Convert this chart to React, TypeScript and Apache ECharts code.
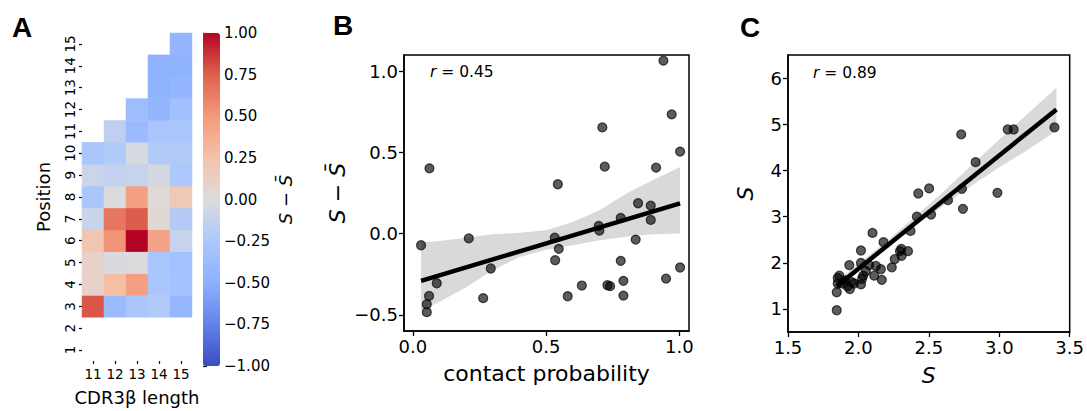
import React, { useEffect, useRef } from "react";
import * as echarts from "echarts";

// ---------- Panel A: heatmap ----------
const lengthCats = ["11", "12", "13", "14", "15"];
const positionCats = ["1", "2", "3", "4", "5", "6", "7", "8", "9", "10", "11", "12", "13", "14", "15"];
const firstPosition = 3;
// values for positions 3..L for each CDR3β length L
const heatL11 = [0.78, 0.1, 0.1, 0.2, -0.1, -0.25, -0.09, -0.25];
const heatL12 = [-0.38, 0.27, -0.02, 0.53, 0.66, -0.01, -0.13, -0.22, -0.15];
const heatL13 = [-0.25, 0.47, -0.01, 1.0, 0.76, 0.46, -0.11, -0.03, -0.38, -0.36];
const heatL14 = [-0.21, -0.25, -0.25, 0.44, 0.04, 0.03, -0.05, -0.21, -0.26, -0.45, -0.47, -0.48];
const heatL15 = [-0.42, -0.3, -0.31, -0.11, -0.2, 0.18, -0.24, -0.21, -0.26, -0.33, -0.44, -0.47, -0.43];
const heatColumns = [heatL11, heatL12, heatL13, heatL14, heatL15];
const coolwarm = ["#3b4cc0", "#6282ea", "#8db0fe", "#aac7fd", "#dddcdc", "#f5c1a9", "#f49a7b", "#de614d", "#b40426"];

// ---------- Panel B ----------
const contactProb = [0.031, 0.0625, 0.061, 0.0525, 0.0525, 0.09, 0.21, 0.264, 0.2925, 0.544, 0.5325, 0.5475, 0.534, 0.581, 0.634, 0.711, 0.72, 0.6975, 0.7, 0.73, 0.74, 0.78, 0.78, 0.79, 0.79, 0.836, 0.845, 0.8925, 0.8925, 0.9125, 0.94, 0.971, 0.95, 1.0025, 1.0025];
const deltaS = [-0.072, 0.402, -0.384, -0.435, -0.484, -0.306, -0.029, -0.398, -0.215, 0.304, -0.025, -0.094, -0.164, -0.386, -0.32, 0.654, 0.412, 0.047, 0.018, -0.318, -0.324, 0.096, -0.168, -0.291, -0.382, -0.037, 0.187, 0.172, 0.084, 0.406, 1.065, 0.734, -0.277, 0.505, -0.209];
const fitBX = [0.031, 1.0025];
const fitBY = [-0.291, 0.186];
const bandBX = [0.031, 0.1, 0.2, 0.3, 0.4, 0.5, 0.6, 0.7, 0.8, 0.9, 1.0025];
const bandBUp = [-0.055, -0.045, -0.025, -0.004, 0.005, 0.02, 0.072, 0.144, 0.246, 0.328, 0.41];
const bandBLow = [-0.472, -0.42, -0.33, -0.226, -0.144, -0.1, -0.072, -0.041, -0.02, -0.004, 0.0];
const xTicksB = [0, 0.5, 1.0];
const yTicksB = [-0.5, 0, 0.5, 1.0];

// ---------- Panel C ----------
const sX = [1.846, 1.846, 1.853, 1.853, 1.865, 1.888, 1.906, 1.922, 1.939, 1.953, 1.969, 1.935, 2.018, 2.025, 2.034, 2.018, 2.018, 2.053, 2.076, 2.1, 2.112, 2.124, 2.159, 2.166, 2.178, 2.237, 2.258, 2.295, 2.307, 2.305, 2.352, 2.37, 2.415, 2.425, 2.502, 2.516, 2.636, 2.73, 2.735, 2.742, 2.832, 2.987, 3.06, 3.102, 3.392];
const sY = [0.971, 1.361, 1.55, 1.672, 1.72, 1.55, 1.62, 1.49, 1.43, 1.58, 1.55, 1.95, 1.53, 1.65, 1.72, 2.265, 1.997, 1.82, 1.95, 2.647, 1.72, 1.93, 1.86, 1.63, 2.445, 1.9, 2.08, 2.25, 2.15, 2.3, 2.25, 2.69, 3.0, 3.5, 3.61, 3.044, 3.356, 4.779, 3.601, 3.168, 4.179, 3.514, 4.887, 4.887, 4.931];
const fitCX = [1.846, 3.406];
const fitCY = [1.491, 5.321];
const bandCX = [1.846, 2.0, 2.2, 2.4, 2.6, 2.8, 3.0, 3.2, 3.406];
const bandCUp = [1.6, 1.98, 2.46, 2.99, 3.53, 4.1, 4.67, 5.22, 5.79];
const bandCLow = [1.39, 1.86, 2.34, 2.79, 3.23, 3.66, 4.07, 4.44, 4.86];
const xTicksC = [1.5, 2.0, 2.5, 3.0, 3.5];
const yTicksC = [1, 2, 3, 4, 5, 6];

const FONT = "DejaVu Sans";
const fmt = (d: number) => (v: number) => {
  const s = Math.abs(v).toFixed(d);
  return v < -1e-9 ? "\u2212" + s : s;
};

function bandSeries(xs: number[], up: number[], low: number[], gi: number) {
  return {
    type: "custom",
    xAxisIndex: gi,
    yAxisIndex: gi,
    z: 1,
    silent: true,
    data: xs.map((x, i) => [x, low[i], up[i]]),
    renderItem: (params: any, api: any) => {
      if (params.dataIndex !== 0) return null;
      const pts: number[][] = [];
      for (let i = 0; i < xs.length; i++) pts.push(api.coord([xs[i], up[i]]));
      for (let i = xs.length - 1; i >= 0; i--) pts.push(api.coord([xs[i], low[i]]));
      return { type: "polygon", shape: { points: pts }, style: { fill: "#d9d9d9" } };
    },
  };
}

function scatterAxes(gi: number, xmin: number, xmax: number, ymin: number, ymax: number, xt: number[], yt: number[], xName: string, yName: string, xItalic: boolean, xGap: number, yGap: number) {
  const common = {
    gridIndex: gi,
    type: "value",
    splitLine: { show: false },
    axisLine: { show: true, onZero: false, lineStyle: { color: "#000", width: 1.5 } },
    axisTick: { show: true, length: 5, lineStyle: { color: "#000", width: 1.3 } },
    axisLabel: { color: "#000", fontSize: 18, fontFamily: FONT, margin: 6 },
  };
  const x = {
    ...common,
    min: xmin,
    max: xmax,
    axisTick: { ...common.axisTick, customValues: xt },
    axisLabel: { ...common.axisLabel, customValues: xt, formatter: fmt(1) },
    name: xName,
    nameLocation: "middle",
    nameGap: xGap,
    nameTextStyle: { color: "#000", fontSize: 22, fontFamily: FONT, fontStyle: xItalic ? "italic" : "normal" },
  };
  const y = {
    ...common,
    min: ymin,
    max: ymax,
    axisTick: { ...common.axisTick, customValues: yt },
    axisLabel: { ...common.axisLabel, customValues: yt, formatter: yt[0] === 1 ? fmt(0) : fmt(1) },
    name: yName,
    nameLocation: "middle",
    nameRotate: 90,
    nameGap: yGap,
    nameTextStyle: { color: "#000", fontSize: 22, fontFamily: FONT, fontStyle: "italic" },
  };
  return { x, y };
}

export default function App() {
  const ref = useRef<HTMLDivElement>(null);
  useEffect(() => {
    if (!ref.current) return;
    const chart = echarts.init(ref.current, null, { renderer: "svg" });
    const heatData: number[][] = [];
    heatColumns.forEach((col, ci) => {
      col.forEach((v, i) => heatData.push([ci, firstPosition + i - 1, v]));
    });
    const axB = scatterAxes(2, -0.033, 1.036, -0.6, 1.1, xTicksB, yTicksB, "contact probability", "S \u2212 S\u0304", false, 31, 56);
    const axC = scatterAxes(3, 1.5, 3.5, 0.5, 6.5, xTicksC, yTicksC, "S", "S", true, 32, 32);
    const pointStyle = { color: "rgba(0,0,0,0.8)", borderColor: "rgba(0,0,0,0.85)", borderWidth: 1.2 };

    chart.setOption({
      animation: false,
      textStyle: { fontFamily: FONT },
      grid: [
        { left: 82, top: 33, width: 110, height: 333 },
        { left: 203, top: 33, width: 17, height: 333 },
        { left: 404, top: 55, width: 285, height: 276, show: true, borderColor: "#000", borderWidth: 1.5, backgroundColor: "transparent" },
        { left: 788, top: 55, width: 284, height: 277, show: true, borderColor: "#000", borderWidth: 1.5, backgroundColor: "transparent" },
      ],
      xAxis: [
        {
          gridIndex: 0,
          type: "category",
          data: lengthCats,
          axisLine: { show: false },
          axisTick: { show: true, alignWithLabel: true, length: 3, lineStyle: { color: "#000", width: 1.2 } },
          axisLabel: { color: "#000", fontSize: 13.5, margin: 6, fontFamily: FONT, interval: 0, hideOverlap: false },
          name: "CDR3\u03b2 length",
          nameLocation: "middle",
          nameGap: 27,
          nameTextStyle: { color: "#000", fontSize: 18, fontFamily: FONT },
        },
        { gridIndex: 1, type: "value", show: false, min: 0, max: 1 },
        axB.x,
        axC.x,
      ],
      yAxis: [
        {
          gridIndex: 0,
          type: "category",
          data: positionCats,
          axisLine: { show: false },
          axisTick: { show: true, alignWithLabel: true, length: 3, interval: 0, lineStyle: { color: "#000", width: 1.2 } },
          axisLabel: { color: "#000", fontSize: 13.5, rotate: 90, margin: 5, fontFamily: FONT, interval: 0, hideOverlap: false },
          name: "Position",
          nameLocation: "middle",
          nameGap: 30,
          nameTextStyle: { color: "#000", fontSize: 18, fontFamily: FONT },
        },
        {
          gridIndex: 1,
          type: "value",
          position: "right",
          min: -1,
          max: 1,
          interval: 0.25,
          splitLine: { show: false },
          axisLine: { show: false },
          axisTick: { show: true, length: 4, lineStyle: { color: "#000", width: 1.2 } },
          axisLabel: { color: "#000", fontSize: 15, margin: 4, formatter: fmt(2), fontFamily: FONT },
          name: "S \u2212 S\u0304",
          nameLocation: "middle",
          nameRotate: 90,
          nameGap: 56,
          nameTextStyle: { color: "#000", fontSize: 18, fontStyle: "italic", fontFamily: FONT },
        },
        axB.y,
        axC.y,
      ],
      visualMap: {
        type: "continuous",
        seriesIndex: 0,
        min: -1,
        max: 1,
        left: 203,
        top: 33,
        itemWidth: 17,
        itemHeight: 333,
        padding: 0,
        calculable: false,
        hoverLink: false,
        inRange: { color: coolwarm },
      },
      graphic: [
        { type: "text", left: 12, top: 13, style: { text: "A", fontSize: 28, fontWeight: "bold", fontFamily: "Liberation Sans Narrow, Liberation Sans", fill: "#000" } },
        { type: "text", left: 333, top: 11, style: { text: "B", fontSize: 28, fontWeight: "bold", fontFamily: "Liberation Sans Narrow, Liberation Sans", fill: "#000" } },
        { type: "text", left: 740, top: 13, style: { text: "C", fontSize: 28, fontWeight: "bold", fontFamily: "Liberation Sans Narrow, Liberation Sans", fill: "#000" } },
        { type: "text", left: 430, top: 64, style: { text: "{i|r} = 0.45", fontSize: 15.5, fontFamily: FONT, fill: "#000", rich: { i: { fontStyle: "italic", fontSize: 15.5, fontFamily: FONT } } } },
        { type: "text", left: 813, top: 65, style: { text: "{i|r} = 0.89", fontSize: 15.5, fontFamily: FONT, fill: "#000", rich: { i: { fontStyle: "italic", fontSize: 15.5, fontFamily: FONT } } } },
      ],
      series: [
        { type: "heatmap", xAxisIndex: 0, yAxisIndex: 0, data: heatData, itemStyle: { borderWidth: 0 } },
        { type: "scatter", xAxisIndex: 1, yAxisIndex: 1, data: [] },
        bandSeries(bandBX, bandBUp, bandBLow, 2),
        { type: "scatter", xAxisIndex: 2, yAxisIndex: 2, z: 2, symbolSize: 9, data: contactProb.map((x, i) => [x, deltaS[i]]), itemStyle: pointStyle },
        { type: "line", xAxisIndex: 2, yAxisIndex: 2, z: 3, symbol: "none", data: fitBX.map((x, i) => [x, fitBY[i]]), lineStyle: { color: "#000", width: 4.5 } },
        bandSeries(bandCX, bandCUp, bandCLow, 3),
        { type: "scatter", xAxisIndex: 3, yAxisIndex: 3, z: 2, symbolSize: 9, data: sX.map((x, i) => [x, sY[i]]), itemStyle: pointStyle },
        { type: "line", xAxisIndex: 3, yAxisIndex: 3, z: 3, symbol: "none", data: fitCX.map((x, i) => [x, fitCY[i]]), lineStyle: { color: "#000", width: 4.5 } },
      ],
    });
    return () => chart.dispose();
  }, []);
  return <div ref={ref} style={{ position: "absolute", left: 0, top: 0, width: 1087, height: 411, background: "#fff" }} />;
}
